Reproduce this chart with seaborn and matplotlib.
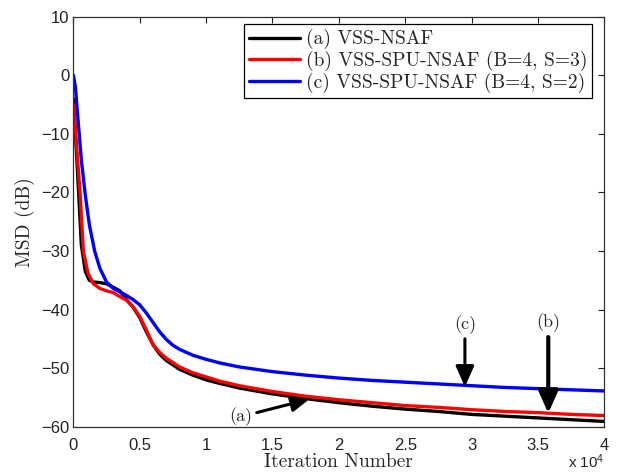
import numpy as np
import pandas as pd
import matplotlib
matplotlib.use('Agg')
import matplotlib.pyplot as plt
import seaborn as sns
from matplotlib.ticker import FuncFormatter, MultipleLocator

# curve values (iteration, MSD in dB)
x_a = [0, 300, 600, 900, 1200, 1500, 2000, 2500, 3000, 3500, 4000, 4500, 5000, 5500,
       6000, 6500, 7000, 8000, 9000, 10000, 11000, 12500, 15000, 17500, 20000,
       22500, 25000, 27500, 30000, 32500, 35000, 37500, 40000]
y_a = [-4, -16, -29, -33.5, -35, -35.3, -35.4, -35.6, -36.2, -36.8, -38.3, -39.6, -41.4, -43.8,
       -46.0, -47.6, -48.7, -50.2, -51.2, -52.0, -52.6, -53.4, -54.4, -55.2, -55.9,
       -56.5, -57.0, -57.4, -57.9, -58.2, -58.5, -58.8, -59.1]

x_b = [0, 300, 500, 750, 1100, 1500, 2000, 2500, 3000, 3500, 4000, 4500, 5000, 5500,
       6000, 6500, 7000, 8000, 9000, 10000, 11000, 12500, 15000, 17500, 20000,
       22500, 25000, 27500, 30000, 32500, 35000, 37500, 40000]
y_b = [-5, -14, -20, -30, -33.8, -35.6, -36.4, -36.8, -37.1, -37.8, -38.4, -39.5, -41.2, -43.5,
       -46.0, -47.3, -48.3, -49.8, -50.8, -51.5, -52.2, -53.0, -54.0, -54.8, -55.4,
       -55.9, -56.4, -56.7, -57.1, -57.4, -57.6, -57.9, -58.1]

x_c = [0, 150, 400, 600, 900, 1200, 1600, 2000, 2500, 3000, 3500, 4000, 4500, 5000, 5500,
       6000, 6500, 7000, 7500, 8000, 9000, 10000, 11000, 12500, 15000, 17500, 20000,
       22500, 25000, 27500, 30000, 32500, 35000, 37500, 40000]
y_c = [0, -2, -9, -14.5, -20.5, -25.5, -30, -33, -35.3, -36.4, -37, -37.6, -38.3, -39.2, -40.6,
       -42.2, -43.8, -45.1, -46.1, -46.8, -47.8, -48.5, -49.1, -49.8, -50.6, -51.2, -51.7,
       -52.1, -52.4, -52.7, -53.0, -53.3, -53.5, -53.7, -53.9]

labels = ['(a) VSS-NSAF', '(b) VSS-SPU-NSAF (B=4, S=3)', '(c) VSS-SPU-NSAF (B=4, S=2)']
colors = ['#000000', '#ff0000', '#0000ff']

sns.set_style('white')
plt.rcParams['font.family'] = ['Liberation Sans', 'DejaVu Sans']
plt.rcParams['mathtext.default'] = 'regular'
serif = ['cmr10', 'Liberation Serif', 'DejaVu Serif']

fig = plt.figure(figsize=(6.22, 4.74), dpi=100)
ax = fig.add_axes([0.118, 0.0998, 0.8535, 0.865])

for xs, ys, lab, col in zip([x_a, x_b, x_c], [y_a, y_b, y_c], labels, colors):
    sns.lineplot(x=xs, y=ys, color=col, lw=2.4, label=lab, ax=ax)

ax.set_xlim(0, 40000)
ax.set_ylim(-60, 10)
ax.xaxis.set_major_locator(MultipleLocator(5000))
ax.yaxis.set_major_locator(MultipleLocator(10))
ax.xaxis.set_major_formatter(FuncFormatter(lambda v, p: f'{v / 1e4:g}'))
ax.tick_params(direction='in', top=True, right=True, length=4, width=0.8,
               labelsize=12, colors='#222222')
ax.tick_params(axis='x', pad=8)
ax.tick_params(axis='y', pad=3)
for s in ax.spines.values():
    s.set_color('#333333')
    s.set_linewidth(0.9)

ax.set_xlabel('Iteration Number', fontsize=14, family=serif, labelpad=0)
ax.set_ylabel('MSD (dB)', fontsize=14, family=serif, labelpad=4)
ax.text(1.0, -0.1, 'x 10$^4$', transform=ax.transAxes, ha='right', va='baseline', fontsize=11)

leg = ax.legend(loc='upper right', bbox_to_anchor=(0.977, 0.981), borderaxespad=0,
                fancybox=False, framealpha=1, edgecolor='black', handlelength=2.6,
                handletextpad=0.3, labelspacing=0.08, borderpad=0.25,
                prop={'family': serif, 'size': 14})
leg.get_frame().set_linewidth(0.9)

# arrows pointing at each curve
arr = dict(arrowstyle='-|>,head_length=0.45,head_width=0.2', color='black', lw=2.2)
ax.annotate('(c)', xy=(29500, -53.2), xytext=(29500, -42.6), ha='center', va='center',
            fontsize=13, family=serif, arrowprops=dict(arr, mutation_scale=28, shrinkA=1, shrinkB=0))
ax.annotate('(b)', xy=(35780, -57.7), xytext=(35780, -42.3), ha='center', va='center',
            fontsize=13, family=serif, arrowprops=dict(arr, mutation_scale=30, lw=3, shrinkA=1, shrinkB=0))
ax.annotate('(a)', xy=(17780, -55.3), xytext=(12600, -58.3), ha='center', va='center',
            fontsize=13, family=serif, arrowprops=dict(arr, mutation_scale=24, shrinkA=1, shrinkB=0))

fig.savefig('out.png', dpi=100)
